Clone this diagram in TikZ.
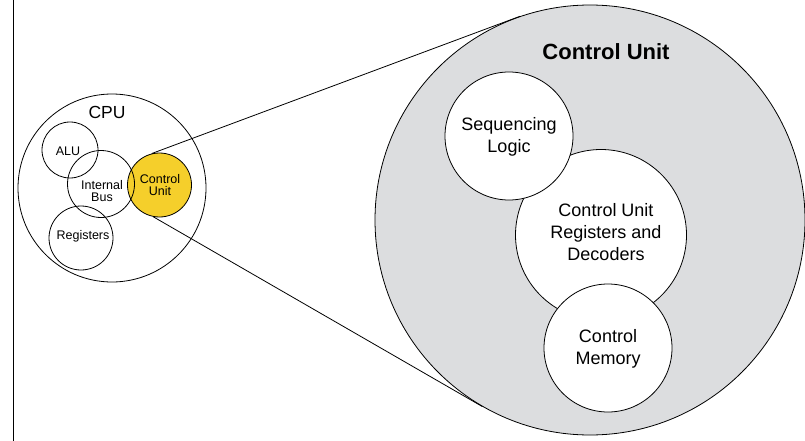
\documentclass[tikz,border=0pt]{standalone}
\usepackage{fontspec}
\setmainfont{Liberation Sans}
\definecolor{cuyellow}{HTML}{F5CF2B}
\definecolor{zoomgray}{HTML}{DCDDDF}
\begin{document}
\begin{tikzpicture}[x=1pt,y=-1pt,line width=0.8pt,
  ring/.style={circle,draw,inner sep=0pt,minimum size=#1},
  smalltxt/.style={font=\fontsize{12.5}{12}\selectfont,align=center,inner sep=0pt},
  bigtxt/.style={font=\fontsize{18}{21.7}\selectfont,align=center,inner sep=0pt}]
\useasboundingbox (0,0) rectangle (805,441);

% left rule
\coordinate (ruletop) at (13.5,0);
\coordinate (rulebot) at (13.5,441);
\draw[line width=1pt] (ruletop) -- (rulebot);

% magnified control unit
\node[ring=430pt,fill=zoomgray] (zoom) at (590,220) {};
\node[ring=171pt,fill=white] (cur) at (601,235) {};
\node[ring=128pt,fill=white] (seq) at (509,136) {};
\node[ring=128pt,fill=white] (mem) at (608,348) {};
\node[font=\fontsize{22}{26}\selectfont\bfseries,inner sep=0pt] (title) at (606,52) {Control Unit};
\node[bigtxt] (seqtxt) at (509,137) {Sequencing\\Logic};
\node[bigtxt] (curtxt) at (606,232) {Control Unit\\Registers and\\Decoders};
\node[bigtxt] (memtxt) at (608,349) {Control\\Memory};

% CPU overview
\node[ring=188pt] (cpu) at (112,188) {};
\node[ring=64pt,fill=cuyellow] (cu) at (159.5,185) {};
\node[ring=56pt] (alu) at (70,150) {};
\node[ring=67pt] (bus) at (101,184) {};
\node[ring=64pt] (reg) at (81,238) {};
\node[font=\fontsize{17.5}{20}\selectfont,inner sep=0pt] (cputxt) at (107,112) {CPU};
\node[smalltxt] (alutxt) at (68,151) {ALU};
\node[smalltxt] (bustxt) at (102,191) {Internal\\Bus};
\node[smalltxt] (cutxt) at (160,185) {Control\\Unit};
\node[smalltxt] (regtxt) at (83,236) {Registers};

% zoom lines
\draw (cu.104) -- (zoom.109);
\draw (cu.259) -- (zoom.240);
\end{tikzpicture}
\end{document}
